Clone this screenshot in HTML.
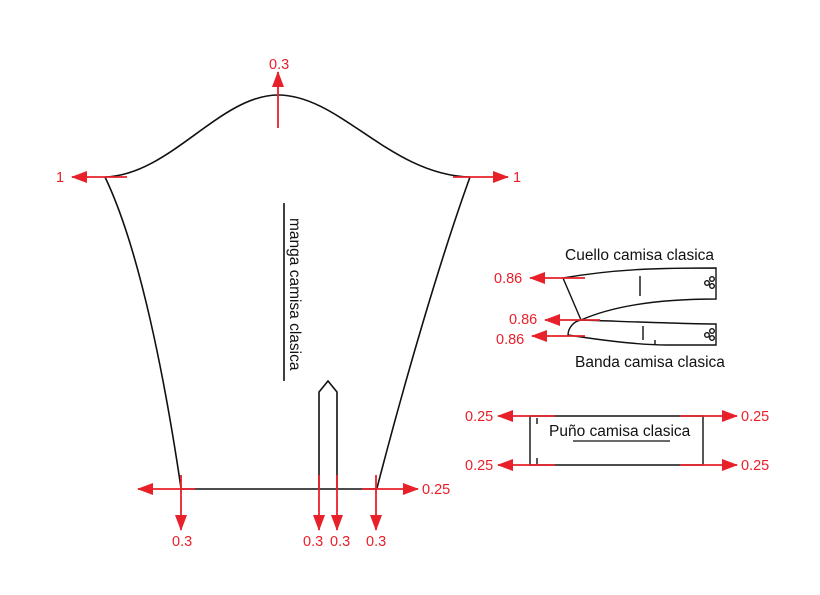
<!DOCTYPE html>
<html><head><meta charset="utf-8"><style>
body{margin:0;background:#fff}
svg{display:block}
text{font-family:"Liberation Sans",sans-serif}
.r{fill:#e8202a;font-size:14.5px}
.k{fill:#111;font-size:15.5px}
</style></head><body>
<svg width="820" height="595" viewBox="0 0 820 595">
<defs><marker id="ah" viewBox="0 0 16 12" refX="15" refY="6" markerWidth="16" markerHeight="12" orient="auto" markerUnits="userSpaceOnUse"><path d="M0,0 L16,6 L0,12 Z" fill="#e8202a"/></marker></defs>
<g fill="none" stroke="#111" stroke-width="1.6">
<path d="M105,177 C170,175 220,95 278,95 C340,95 390,175 470,177"/>
<path d="M105,177 C140,250 165,380 181,488"/>
<path d="M470,177 C440,260 405,380 377,488"/>
<path d="M181,489 H377"/>
<path d="M319,489 V392 L328,381 L337,392 V489"/>
<path d="M284,203 V381"/>
</g>
<text class="k" transform="translate(290,218) rotate(90)">manga camisa clasica</text>
<g stroke="#e8202a" stroke-width="1.8" fill="none">
<path d="M278,128 V72" marker-end="url(#ah)"/>
<path d="M127,177 H72" marker-end="url(#ah)"/>
<path d="M453,177 H508" marker-end="url(#ah)"/>
<path d="M195,489 H138" marker-end="url(#ah)"/>
<path d="M362,489 H418" marker-end="url(#ah)"/>
<path d="M181,475 V530" marker-end="url(#ah)"/>
<path d="M319,475 V530" marker-end="url(#ah)"/>
<path d="M337,475 V530" marker-end="url(#ah)"/>
<path d="M376,475 V530" marker-end="url(#ah)"/>
</g>
<g class="r">
<text x="269" y="69">0.3</text>
<text x="56" y="182">1</text>
<text x="513" y="182">1</text>
<text x="422" y="494">0.25</text>
<text x="172" y="546">0.3</text>
<text x="303" y="546">0.3</text>
<text x="330" y="546">0.3</text>
<text x="366" y="546">0.3</text>
</g>
<g fill="none" stroke="#111" stroke-width="1.4">
<path d="M563,278 C620,268 670,268 716,268 V299 C660,299 615,305 581,320 Z"/>
<path d="M640,276 V296"/>
<path d="M581,320 C640,322 690,324 716,324 V345 H668 C640,345 600,340 568,335 C568,328 574,321 581,320"/>
<path d="M643,326 V340"/>
<path d="M655,340 V345"/>
<path d="M530,416 H703 V465 H530 Z"/>
<path d="M537,418 V424 M537,458 V464"/>
<path d="M573,441 H670" stroke-width="1.2"/>
<circle cx="712" cy="279" r="2.3"/><circle cx="712" cy="286" r="2.3"/><circle cx="707" cy="283" r="2.3"/>
<circle cx="712" cy="331" r="2.3"/><circle cx="712" cy="338" r="2.3"/><circle cx="707" cy="335" r="2.3"/>
</g>
<text class="k" x="565" y="260">Cuello camisa clasica</text>
<text class="k" x="575" y="367">Banda camisa clasica</text>
<text class="k" x="549" y="436">Puño camisa clasica</text>
<g stroke="#e8202a" stroke-width="1.8" fill="none">
<path d="M585,278 H530" marker-end="url(#ah)"/>
<path d="M600,320 H545" marker-end="url(#ah)"/>
<path d="M585,336 H532" marker-end="url(#ah)"/>
<path d="M555,416 H498" marker-end="url(#ah)"/>
<path d="M680,416 H737" marker-end="url(#ah)"/>
<path d="M555,465 H498" marker-end="url(#ah)"/>
<path d="M680,465 H737" marker-end="url(#ah)"/>
</g>
<g class="r">
<text x="494" y="283">0.86</text>
<text x="509" y="324">0.86</text>
<text x="496" y="344">0.86</text>
<text x="465" y="421">0.25</text>
<text x="741" y="421">0.25</text>
<text x="465" y="470">0.25</text>
<text x="741" y="470">0.25</text>
</g>
</svg>
</body></html>
